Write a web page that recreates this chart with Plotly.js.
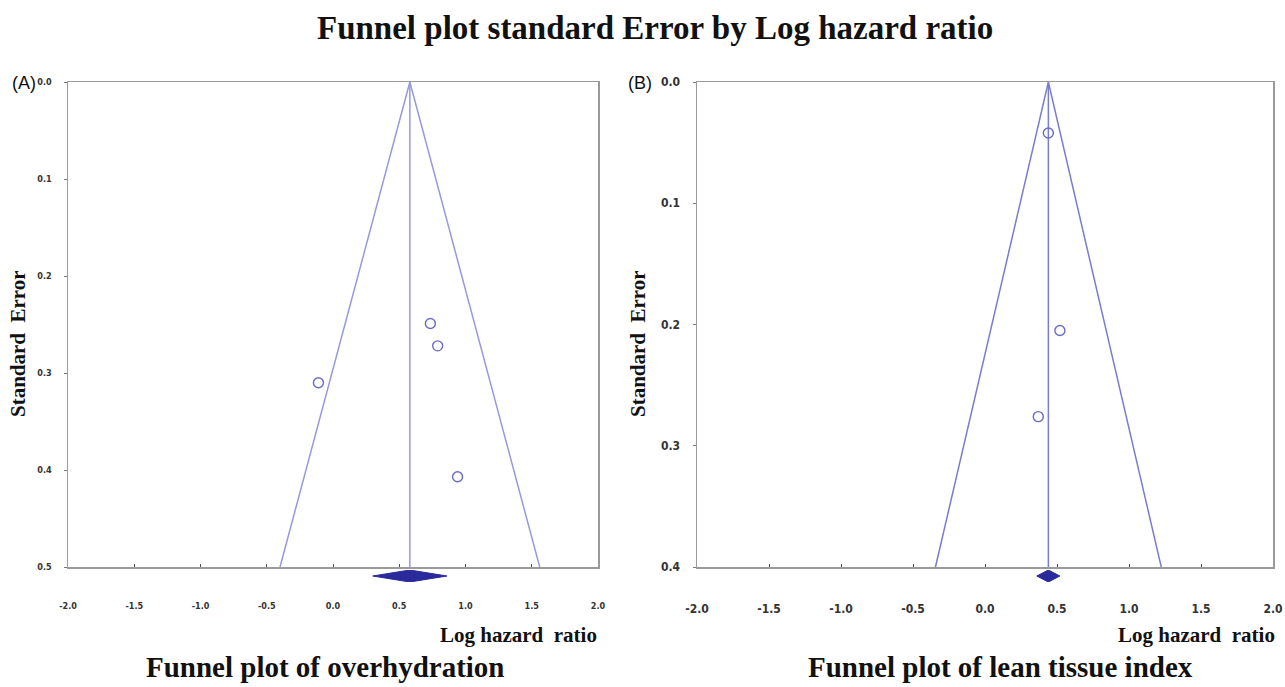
<!DOCTYPE html>
<html>
<head>
<meta charset="utf-8">
<script src="https://cdn.plot.ly/plotly-3.0.1.min.js"></script>
<style>html,body{margin:0;padding:0;background:#fff}#chart{width:1285px;height:687px}</style>
</head>
<body>
<div id="chart"></div>
<script>
// Panel A: overhydration
const aLogHR = [0.735, 0.79, -0.11, 0.94];
const aSE = [0.249, 0.272, 0.310, 0.407];
const aEstimate = 0.58;
const aCI = [0.30, 0.86];
const aSEMax = 0.5;
const aYTicks = [0.0, 0.1, 0.2, 0.3, 0.4, 0.5];

// Panel B: lean tissue index
const bLogHR = [0.44, 0.52, 0.37];
const bSE = [0.042, 0.205, 0.276];
const bEstimate = 0.44;
const bCI = [0.36, 0.52];
const bSEMax = 0.4;
const bYTicks = [0.0, 0.1, 0.2, 0.3, 0.4];

const xTicks = [-2.0, -1.5, -1.0, -0.5, 0.0, 0.5, 1.0, 1.5, 2.0];

const lineCol = '#7b7bd0';
const ptCol = '#6a6ac8';
const diaCol = '#2a2a9c';
const axCol = '#9a9a9a';

function panel(est, semax, lhr, se, ci, xa, ya, yd, lc) {
  return [
    {x:[est-1.96*semax, est, est+1.96*semax], y:[semax, 0, semax], xaxis:xa, yaxis:ya,
     mode:'lines', line:{color:lc, width:1.5}, hoverinfo:'skip'},
    {x:[est, est], y:[0, semax], xaxis:xa, yaxis:ya, mode:'lines', line:{color:lc, width:1.5}, hoverinfo:'skip'},
    {x:lhr, y:se, xaxis:xa, yaxis:ya, mode:'markers',
     marker:{symbol:'circle-open', size:10, color:ptCol, line:{width:1.4, color:ptCol}}},
    {x:[ci[0], est, ci[1], est, ci[0]], y:[0, 1, 0, -1, 0], xaxis:xa, yaxis:yd, mode:'lines',
     fill:'toself', fillcolor:diaCol, line:{color:diaCol, width:1}, hoverinfo:'skip'}
  ];
}

const data = [].concat(
  panel(aEstimate, aSEMax, aLogHR, aSE, aCI, 'x', 'y', 'y3', '#9898dc'),
  panel(bEstimate, bSEMax, bLogHR, bSE, bCI, 'x2', 'y2', 'y4', lineCol)
);

const ytop = 1 - 82/687, ybot = 1 - 567/687;
const dTop = 1 - 570/687, dBot = 1 - 582/687;
const narrow = 'Liberation Sans Narrow, Arial Narrow, DejaVu Sans Condensed, sans-serif';
const serif = 'Liberation Serif, Times New Roman, serif';

function xaxis(dom, anchor, fsize) {
  return {domain:dom, anchor:anchor, range:[-2,2], tickvals:xTicks,
    ticktext:xTicks.map(v=>v.toFixed(1)), showgrid:false, zeroline:false,
    showline:true, mirror:true, linecolor:axCol, linewidth:1.5,
    ticks:'inside', ticklen:3, tickcolor:'#555', ticklabelstandoff:30,
    tickfont:{family:narrow, size:fsize, color:'#333', weight:'bold'}};
}
function yaxis(semax, ticks, anchor, fsize, standoff) {
  return {domain:[ybot, ytop], anchor:anchor, range:[semax, 0], tickvals:ticks,
    ticktext:ticks.map(v=>v.toFixed(1)), showgrid:false, zeroline:false,
    showline:true, mirror:true, linecolor:axCol, linewidth:1.5,
    ticks:'outside', ticklen:3, tickcolor:'#777', ticklabelstandoff:standoff,
    tickfont:{family:narrow, size:fsize, color:'#333', weight:'bold'}};
}
function dAxis(anchor) {
  return {domain:[dBot, dTop], anchor:anchor, range:[-1,1], visible:false, fixedrange:true};
}

function ann(text, px, py, size, opts) {
  return Object.assign({text:text, xref:'paper', yref:'paper', x:px/1285, y:1-py/687,
    xanchor:'center', yanchor:'middle', showarrow:false,
    font:{family:serif, size:size, color:'#111', weight:'bold'}}, opts || {});
}

const layout = {
  width:1285, height:687, margin:{l:0, r:0, t:0, b:0},
  paper_bgcolor:'#fff', plot_bgcolor:'rgba(0,0,0,0)', showlegend:false,
  xaxis: xaxis([68/1285, 598/1285], 'y', 9),
  yaxis: yaxis(aSEMax, aYTicks, 'x', 9, 10),
  xaxis2: xaxis([697/1285, 1273/1285], 'y2', 12),
  yaxis2: yaxis(bSEMax, bYTicks, 'x2', 12, 10),
  yaxis3: dAxis('x'),
  yaxis4: dAxis('x2'),
  annotations: [
    ann('Funnel plot standard Error by Log hazard ratio', 655, 28, 33),
    ann('(A)', 24, 83, 18, {font:{family:'Liberation Sans, Arial, sans-serif', size:18, color:'#111'}}),
    ann('(B)', 640, 83, 18, {font:{family:'Liberation Sans, Arial, sans-serif', size:18, color:'#111'}}),
    ann('Standard  Error', 18, 344, 21, {textangle:-90}),
    ann('Standard  Error', 638, 344, 21, {textangle:-90}),
    ann('Log hazard  ratio', 599, 635, 21, {xanchor:'right'}),
    ann('Log hazard  ratio', 1277, 635, 21, {xanchor:'right'}),
    ann('Funnel plot of overhydration', 325, 667, 29),
    ann('Funnel plot of lean tissue index', 1000, 667, 29)
  ]
};

Plotly.newPlot('chart', data, layout, {staticPlot:true});
</script>
</body>
</html>
